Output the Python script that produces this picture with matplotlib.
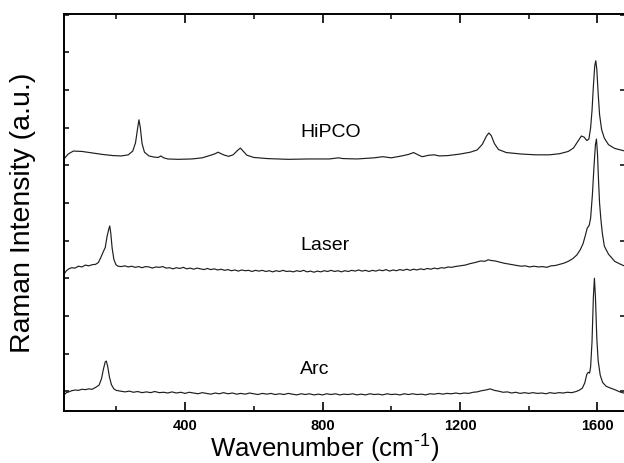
import matplotlib
matplotlib.use("Agg")
import matplotlib.pyplot as plt
from matplotlib.ticker import MultipleLocator

plt.rcParams['font.family'] = ['Liberation Sans', 'DejaVu Sans']
plt.rcParams['mathtext.fontset'] = 'custom'
plt.rcParams['mathtext.rm'] = 'Liberation Sans'
plt.rcParams['mathtext.it'] = 'Liberation Sans'

# spectra: (wavenumber cm-1, intensity in y-tick units)
hipco = [(48, 6.17), (60, 6.30), (75, 6.38), (100, 6.37), (130, 6.33), (160, 6.29),
         (190, 6.26), (215, 6.25), (235, 6.28), (248, 6.38), (256, 6.60), (262, 6.98),
         (266, 7.21), (270, 7.00), (275, 6.58), (282, 6.35), (295, 6.25), (310, 6.22),
         (322, 6.21), (330, 6.25), (338, 6.20), (350, 6.17), (380, 6.16), (420, 6.17),
         (450, 6.20), (475, 6.27), (488, 6.31), (496, 6.35), (505, 6.31), (515, 6.27),
         (527, 6.24), (540, 6.28), (552, 6.39), (561, 6.46), (570, 6.37), (580, 6.27),
         (600, 6.21), (640, 6.18), (700, 6.16), (760, 6.17), (820, 6.17), (846, 6.20),
         (860, 6.18), (900, 6.17), (950, 6.20), (975, 6.23), (1000, 6.20), (1030, 6.25),
         (1050, 6.29), (1065, 6.34), (1078, 6.28), (1090, 6.23), (1110, 6.27), (1125, 6.28),
         (1140, 6.25), (1165, 6.26), (1200, 6.30), (1230, 6.35), (1250, 6.41), (1265, 6.56),
         (1277, 6.78), (1284, 6.86), (1291, 6.79), (1300, 6.58), (1312, 6.42), (1335, 6.34),
         (1380, 6.30), (1420, 6.28), (1460, 6.28), (1490, 6.31), (1515, 6.37), (1530, 6.46),
         (1543, 6.64), (1553, 6.78), (1561, 6.75), (1569, 6.66), (1575, 6.70), (1580, 7.00),
         (1584, 7.45), (1588, 8.10), (1592, 8.65), (1595, 8.78), (1598, 8.55), (1602, 7.90),
         (1606, 7.35), (1612, 6.95), (1620, 6.72), (1632, 6.55), (1650, 6.45), (1680, 6.38)]

laser = [(48, 3.11), (55, 3.20), (62, 3.25), (70, 3.28), (80, 3.27), (90, 3.32), (100, 3.30),
         (110, 3.35), (120, 3.33), (130, 3.36), (140, 3.37), (148, 3.42), (155, 3.55),
         (162, 3.70), (168, 3.82), (173, 4.10), (178, 4.30), (181, 4.39), (184, 4.20),
         (188, 3.80), (193, 3.50), (199, 3.36), (205, 3.32), (215, 3.31), (225, 3.33),
         (235, 3.30), (245, 3.32), (255, 3.29), (265, 3.31), (275, 3.28), (285, 3.31),
         (295, 3.30), (305, 3.27), (315, 3.30), (325, 3.29), (335, 3.31), (345, 3.27),
         (355, 3.28), (365, 3.25), (375, 3.28), (385, 3.26), (395, 3.29), (405, 3.25),
         (415, 3.27), (425, 3.24), (435, 3.27), (445, 3.25), (455, 3.23), (465, 3.26),
         (475, 3.23), (485, 3.25), (495, 3.22), (505, 3.24), (515, 3.21), (525, 3.23),
         (535, 3.20), (545, 3.22), (555, 3.19), (565, 3.22), (575, 3.20), (585, 3.21),
         (595, 3.18), (605, 3.21), (615, 3.19), (625, 3.21), (635, 3.18), (645, 3.20),
         (655, 3.17), (665, 3.20), (675, 3.18), (685, 3.21), (695, 3.18), (705, 3.19),
         (715, 3.17), (725, 3.20), (735, 3.18), (745, 3.21), (755, 3.17), (765, 3.19),
         (775, 3.16), (785, 3.19), (795, 3.17), (805, 3.20), (815, 3.18), (825, 3.21),
         (835, 3.18), (845, 3.20), (855, 3.17), (865, 3.20), (875, 3.18), (885, 3.21),
         (895, 3.19), (905, 3.22), (915, 3.19), (925, 3.21), (935, 3.18), (945, 3.21),
         (955, 3.19), (965, 3.22), (975, 3.20), (985, 3.23), (995, 3.19), (1005, 3.22),
         (1015, 3.20), (1025, 3.23), (1035, 3.21), (1045, 3.24), (1055, 3.21), (1065, 3.24),
         (1075, 3.22), (1085, 3.25), (1095, 3.23), (1105, 3.26), (1115, 3.24), (1125, 3.27),
         (1135, 3.25), (1145, 3.28), (1155, 3.27), (1165, 3.30), (1175, 3.29), (1185, 3.31),
         (1200, 3.33), (1215, 3.35), (1230, 3.39), (1245, 3.42), (1260, 3.46), (1272, 3.45),
         (1282, 3.49), (1292, 3.47), (1302, 3.46), (1315, 3.43), (1328, 3.40), (1340, 3.38),
         (1352, 3.36), (1365, 3.34), (1378, 3.32), (1390, 3.33), (1402, 3.30), (1415, 3.32),
         (1428, 3.30), (1440, 3.31), (1452, 3.29), (1465, 3.33), (1478, 3.34), (1490, 3.37),
         (1502, 3.40), (1515, 3.45), (1528, 3.52), (1540, 3.62), (1550, 3.76), (1558, 3.92),
         (1565, 4.15), (1570, 4.33), (1576, 4.41), (1580, 4.60), (1585, 5.20), (1590, 6.00),
         (1594, 6.55), (1597, 6.70), (1600, 6.30), (1603, 5.60), (1606, 5.00), (1610, 4.55),
         (1614, 4.20), (1620, 3.85), (1632, 3.64), (1650, 3.45), (1665, 3.38), (1680, 3.32)]

arc = [(48, -0.10), (55, -0.04), (62, -0.02), (70, 0.01), (80, 0.03), (90, 0.02), (100, 0.05),
       (110, 0.04), (120, 0.06), (130, 0.05), (140, 0.10), (150, 0.16), (157, 0.33),
       (163, 0.60), (168, 0.78), (171, 0.80), (175, 0.66), (180, 0.38), (186, 0.17),
       (193, 0.06), (200, 0.02), (212, 0.00), (225, -0.02), (238, 0.00), (250, -0.03),
       (262, -0.01), (275, -0.04), (288, -0.02), (300, -0.04), (312, -0.01), (325, -0.04),
       (338, -0.03), (350, -0.05), (362, -0.02), (375, -0.05), (388, -0.03), (400, -0.06),
       (412, -0.03), (425, -0.05), (438, -0.07), (450, -0.04), (462, -0.06), (475, -0.08),
       (488, -0.05), (500, -0.07), (512, -0.04), (525, -0.07), (538, -0.05), (550, -0.08),
       (562, -0.06), (575, -0.08), (588, -0.05), (600, -0.07), (612, -0.09), (625, -0.06),
       (638, -0.08), (650, -0.06), (662, -0.09), (675, -0.07), (688, -0.09), (700, -0.06),
       (712, -0.08), (725, -0.10), (738, -0.07), (750, -0.09), (762, -0.07), (775, -0.10),
       (788, -0.08), (800, -0.10), (812, -0.07), (825, -0.09), (838, -0.07), (850, -0.10),
       (862, -0.08), (875, -0.09), (888, -0.07), (900, -0.10), (912, -0.08), (925, -0.10),
       (938, -0.07), (950, -0.09), (962, -0.08), (975, -0.10), (988, -0.07), (1000, -0.09),
       (1012, -0.08), (1025, -0.10), (1038, -0.07), (1050, -0.09), (1062, -0.07), (1075, -0.09),
       (1088, -0.08), (1100, -0.10), (1112, -0.07), (1125, -0.08), (1138, -0.06), (1150, -0.08),
       (1162, -0.06), (1175, -0.07), (1188, -0.05), (1200, -0.07), (1212, -0.05), (1225, -0.06),
       (1238, -0.03), (1250, -0.02), (1262, 0.01), (1275, 0.03), (1288, 0.06), (1300, 0.02),
       (1312, 0.00), (1325, -0.03), (1338, -0.02), (1350, -0.05), (1362, -0.03), (1375, -0.06),
       (1388, -0.04), (1400, -0.06), (1412, -0.04), (1425, -0.06), (1438, -0.05), (1450, -0.07),
       (1462, -0.04), (1475, -0.06), (1488, -0.04), (1500, -0.05), (1512, -0.03), (1525, -0.04),
       (1538, -0.01), (1548, 0.03), (1556, 0.08), (1563, 0.22), (1569, 0.45), (1573, 0.50),
       (1577, 0.48), (1580, 0.65), (1584, 1.30), (1588, 2.50), (1591, 3.00), (1594, 2.50),
       (1598, 1.40), (1602, 0.80), (1608, 0.42), (1615, 0.23), (1625, 0.13), (1638, 0.08),
       (1650, 0.04), (1665, -0.02), (1680, -0.06)]

labels = ['HiPCO', 'Laser', 'Arc']
label_y = [6.89, 3.91, 0.61]
label_x = 735
series = [hipco, laser, arc]

fig = plt.figure(figsize=(6.24, 4.64), dpi=100)
ax = fig.add_axes([0.1026, 0.1127, 0.8990, 0.8556])

for pts in series:
    xs = [p[0] for p in pts]
    ys = [p[1] for p in pts]
    ax.plot(xs, ys, color='#1e1e1e', lw=0.85)

for name, yy in zip(labels, label_y):
    ax.text(label_x, yy, name, fontsize=14, ha='left', va='center')

ax.set_xlim(48, 1680)
ax.set_ylim(-0.52, 10.03)

ax.xaxis.set_major_locator(MultipleLocator(400))
ax.xaxis.set_minor_locator(MultipleLocator(200))
ax.yaxis.set_major_locator(MultipleLocator(2))
ax.yaxis.set_minor_locator(MultipleLocator(1))

ax.tick_params(axis='x', which='major', direction='in', length=6.5, width=1.2,
               top=True, labelsize=10.5, pad=5)
ax.tick_params(axis='x', which='minor', direction='in', length=3.6, width=1.1, top=True)
ax.tick_params(axis='y', which='major', direction='in', length=3.8, width=1.1,
               right=True, labelleft=False)
ax.tick_params(axis='y', which='minor', direction='in', length=3.8, width=1.1,
               right=False)
for lab in ax.get_xticklabels():
    lab.set_fontweight('bold')

for side in ['left', 'bottom', 'top']:
    ax.spines[side].set_linewidth(1.4)
ax.spines['right'].set_visible(False)

ax.set_xlabel(r'Wavenumber (cm$^{\text{-1}}$)', fontsize=18.5, va='center')
ax.xaxis.set_label_coords(0.465, -0.094)
ax.set_ylabel('Raman Intensity (a.u.)', fontsize=20.5, va='center')
ax.yaxis.set_label_coords(-0.073, 0.5)

fig.savefig('out.png', dpi=100)
